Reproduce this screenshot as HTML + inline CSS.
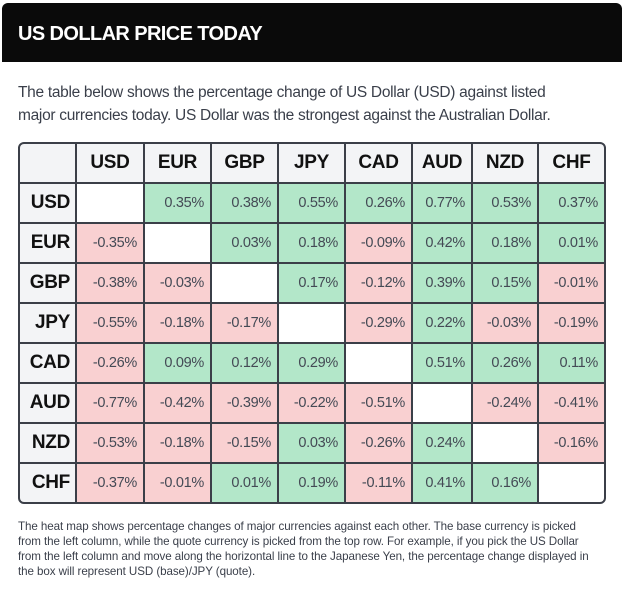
<!DOCTYPE html>
<html><head><meta charset="utf-8"><style>
body{margin:0;width:624px;height:591px;background:#fff;font-family:"Liberation Sans",sans-serif;position:relative;overflow:hidden}
.hd{position:absolute;left:2px;top:3px;width:620px;height:59px;background:#0a0a0a;border-radius:6px 6px 0 0}
.hd span{position:absolute;left:16px;top:20px;color:#fff;font-weight:bold;font-size:20px;letter-spacing:-0.6px}
.intro{position:absolute;left:18px;top:81px;width:556px;font-size:15.5px;line-height:23px;color:#3a3f4a;letter-spacing:-0.3px}
.wrap{position:absolute;left:18px;top:142px;width:588px;height:362px;border:2px solid #3b3f48;border-radius:6px;overflow:hidden;box-sizing:border-box;background:#3b3f48;display:grid;grid-template-columns:55px 66px 65px 65px 65px 65px 58px 64px 65px;grid-template-rows:repeat(9,38px);gap:2px}
.wrap div{display:flex;align-items:center;justify-content:flex-end;padding-right:6px;font-size:14.5px;color:#444a55;letter-spacing:-0.3px}
.wrap div.h{background:#f3f4f6;color:#111;font-weight:bold;font-size:19px;justify-content:center;padding:0}
.wrap div.r{justify-content:flex-end;padding-right:5px}
.wrap .g{background:#b3e7c9}.wrap .p{background:#f9d0d1}.wrap .w{background:#fff}
.foot{position:absolute;left:18px;top:519px;white-space:nowrap;font-size:11.6px;line-height:15px;color:#3a3f4a;letter-spacing:-0.08px}
</style></head><body>
<div class="hd"><span>US DOLLAR PRICE TODAY</span></div>
<div class="intro">The table below shows the percentage change of US Dollar (USD) against listed major currencies today. US Dollar was the strongest against the Australian Dollar.</div>
<div class="wrap">
<div class="h"></div><div class="h">USD</div><div class="h">EUR</div><div class="h">GBP</div><div class="h">JPY</div><div class="h">CAD</div><div class="h">AUD</div><div class="h">NZD</div><div class="h">CHF</div>
<div class="h r">USD</div><div class="w"></div><div class="g">0.35%</div><div class="g">0.38%</div><div class="g">0.55%</div><div class="g">0.26%</div><div class="g">0.77%</div><div class="g">0.53%</div><div class="g">0.37%</div>
<div class="h r">EUR</div><div class="p">-0.35%</div><div class="w"></div><div class="g">0.03%</div><div class="g">0.18%</div><div class="p">-0.09%</div><div class="g">0.42%</div><div class="g">0.18%</div><div class="g">0.01%</div>
<div class="h r">GBP</div><div class="p">-0.38%</div><div class="p">-0.03%</div><div class="w"></div><div class="g">0.17%</div><div class="p">-0.12%</div><div class="g">0.39%</div><div class="g">0.15%</div><div class="p">-0.01%</div>
<div class="h r">JPY</div><div class="p">-0.55%</div><div class="p">-0.18%</div><div class="p">-0.17%</div><div class="w"></div><div class="p">-0.29%</div><div class="g">0.22%</div><div class="p">-0.03%</div><div class="p">-0.19%</div>
<div class="h r">CAD</div><div class="p">-0.26%</div><div class="g">0.09%</div><div class="g">0.12%</div><div class="g">0.29%</div><div class="w"></div><div class="g">0.51%</div><div class="g">0.26%</div><div class="g">0.11%</div>
<div class="h r">AUD</div><div class="p">-0.77%</div><div class="p">-0.42%</div><div class="p">-0.39%</div><div class="p">-0.22%</div><div class="p">-0.51%</div><div class="w"></div><div class="p">-0.24%</div><div class="p">-0.41%</div>
<div class="h r">NZD</div><div class="p">-0.53%</div><div class="p">-0.18%</div><div class="p">-0.15%</div><div class="g">0.03%</div><div class="p">-0.26%</div><div class="g">0.24%</div><div class="w"></div><div class="p">-0.16%</div>
<div class="h r">CHF</div><div class="p">-0.37%</div><div class="p">-0.01%</div><div class="g">0.01%</div><div class="g">0.19%</div><div class="p">-0.11%</div><div class="g">0.41%</div><div class="g">0.16%</div><div class="w"></div>
</div>
<div class="foot">The heat map shows percentage changes of major currencies against each other. The base currency is picked<br>from the left column, while the quote currency is picked from the top row. For example, if you pick the US Dollar<br>from the left column and move along the horizontal line to the Japanese Yen, the percentage change displayed in<br>the box will represent USD (base)/JPY (quote).</div>
</body></html>
